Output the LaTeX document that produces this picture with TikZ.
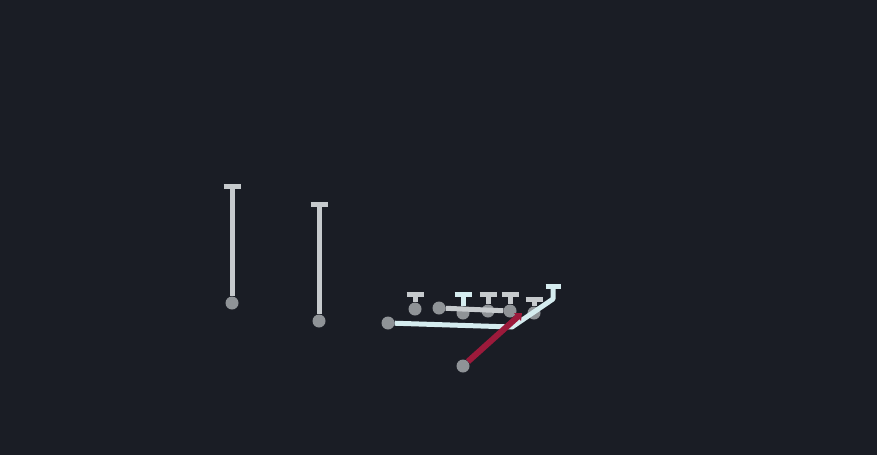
\documentclass[tikz,border=0pt]{standalone}
\usetikzlibrary{arrows.meta}
\definecolor{field}{HTML}{1A1D25}
\definecolor{routegray}{HTML}{C6CACD}
\definecolor{dotgray}{HTML}{8F9397}
\definecolor{hilite}{HTML}{D5ECEF}
\definecolor{runred}{HTML}{9C1A3B}
\tikzset{
	player/.style={circle,fill=dotgray,inner sep=0pt,minimum size=13pt},
	route/.style={line width=5pt,routegray},
	block/.style={route,-{Bar[width=17pt]}},
	hiblock/.style={block,hilite},
	motion/.style={line width=5pt,hilite,line join=round,-{Bar[width=15pt]}},
	run/.style={line width=6pt,runred,-{Triangle[width=10pt,length=6pt]}},
	}
\begin{document}
\begin{tikzpicture}[x=1pt,y=-1pt]
 \fill[field] (0,0) rectangle (877,455);
 \useasboundingbox (0,0) rectangle (877,455);

% receivers split out wide
\node[player] (wr1) at (232,303) {};
\node[player] (wr2) at (319,321) {};
\coordinate (wr1end) at (232,184);
\coordinate (wr2end) at (319,202);
 \draw[block] (wr1) -- (wr1end);
 \draw[block] (wr2) -- (wr2end);

% the line
\node[player] (lt) at (415,309) {};
\node[player] (lg) at (439,308) {};
\node[player] (c) at (463,313) {};
\node[player] (rg) at (488,311) {};
\node[player] (rt) at (510,311) {};
\node[player] (te) at (534,313) {};
\node[player] (rb) at (388,323) {};
\node[player] (qb) at (463,366) {};
  \foreach \p/\y in {lt/292,rg/292,rt/292,te/297}
  \draw[block] (\p) -- (\p |- 0,\y);
 \draw[route] (lg) -- (rt);
 \draw[hiblock] (c) -- (c |- 0,292);

% motion and run
\coordinate (m1) at (512,327);
\coordinate (m2) at (553,299);
\coordinate (m3) at (553,284);
 \draw[motion] (rb) -- (m1) -- (m2) -- (m3);
\coordinate (qbend) at (522,313);
 \draw[run] (qb) -- (qbend);
\end{tikzpicture}
\end{document}
